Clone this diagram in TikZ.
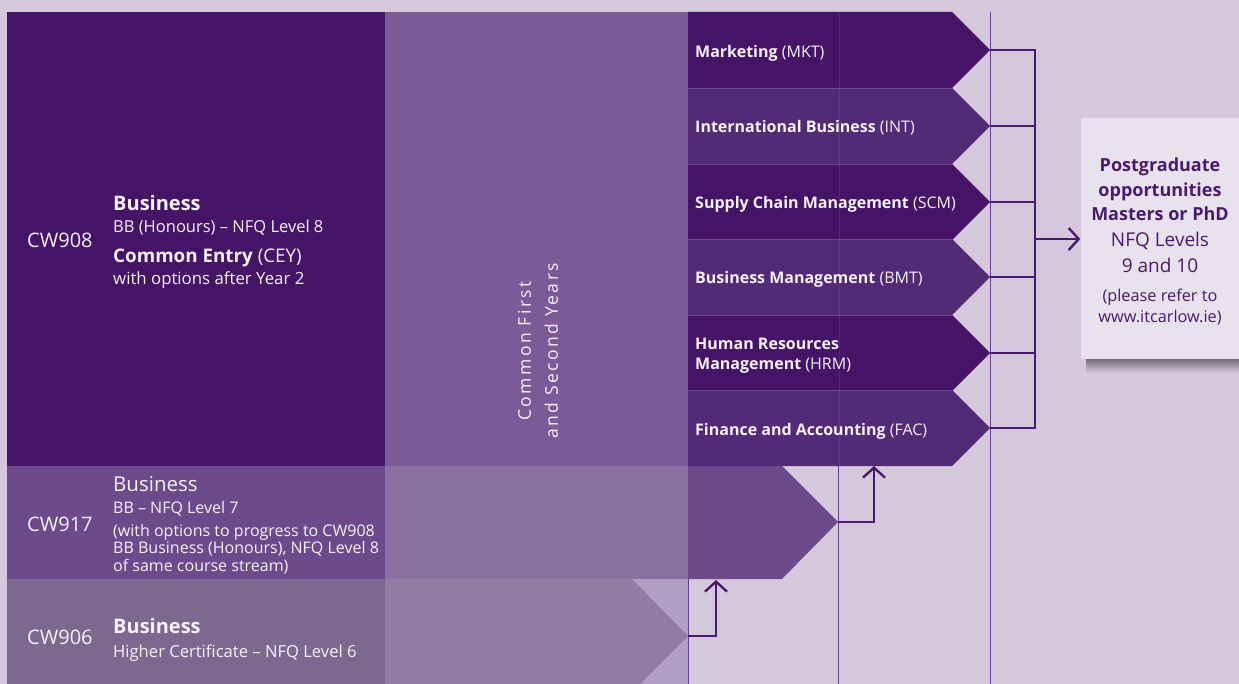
\documentclass[tikz,border=0pt]{standalone}
\usepackage{fontspec}
\setmainfont{Open Sans}
\usetikzlibrary{arrows.meta}
\definecolor{bg}{HTML}{D5C8DD}
\definecolor{dark}{HTML}{461467}
\definecolor{darkB}{HTML}{532A75}
\definecolor{midcol}{HTML}{7B5A98}
\definecolor{rowB}{HTML}{6C4A8B}
\definecolor{rowBmid}{HTML}{8A71A0}
\definecolor{rowC}{HTML}{7D6890}
\definecolor{rowCmid}{HTML}{917BA2}
\definecolor{rowClight}{HTML}{B1A0C4}
\definecolor{conn}{HTML}{4A1A6E}
\definecolor{thin}{HTML}{6B3F8F}
\definecolor{sep}{HTML}{6A4A8A}
\definecolor{boxfill}{HTML}{E8E2EE}
\definecolor{wtext}{HTML}{F6F2F8}
\begin{document}
\begin{tikzpicture}[x=1pt,y=-1pt,
  txt/.style={inner sep=0pt, anchor=base west, text=wtext},
  code/.style={txt, font=\fontsize{20}{23}\selectfont},
  ttl/.style={txt, font=\fontsize{20}{23}\selectfont\bfseries},
  sub/.style={txt, font=\fontsize{16}{19}\selectfont},
  opt/.style={txt, font=\fontsize{16}{19}\selectfont},
  pg/.style={inner sep=0pt, anchor=base, text=conn},
  pgb/.style={pg, font=\fontsize{18}{22}\selectfont\bfseries},
  pgr/.style={pg, font=\fontsize{19}{22}\selectfont},
  pgs/.style={pg, font=\fontsize{16.3}{19}\selectfont},
  connector/.style={draw=conn, line width=2.4pt},
  arr/.style={connector, -{Straight Barb[length=10pt,width=22pt,line width=2.4pt]}},
  thinline/.style={draw=thin, line width=1pt},
]
\useasboundingbox (0,0) rectangle (1239,684);
\fill[bg] (0,0) rectangle (1239,684);

% left blocks
\fill[dark] (7,12) rectangle (385,466);
\fill[midcol] (385,12) rectangle (688,466);
\fill[rowB] (7,466) rectangle (385,579);
\fill[rowBmid] (385,466) rectangle (688,579);
\fill[rowB] (688,466) -- (782,466) -- (838,522) -- (782,579) -- (688,579) -- cycle;
\fill[rowC] (7,579) rectangle (385,684);
\fill[rowClight] (385,579) rectangle (688,684);
\fill[rowCmid] (385,579) -- (632,579) -- (688,636) -- (640,684) -- (385,684) -- cycle;

% option arrows
\foreach \t/\c in {12/dark,88/darkB,164/dark,239/darkB,315/dark,390/darkB}{
  \pgfmathsetmacro\b{\t+76}
  \pgfmathsetmacro\m{\t+38}
  \fill[\c] (688,\t) -- (952,\t) -- (990,\m) -- (952,\b) -- (688,\b) -- cycle;
}
\foreach \y in {88,164,239,315,390}{
  \draw[sep, line width=0.8pt] (688,\y) -- (952,\y);
}
\draw[white, opacity=0.08, line width=1pt] (839,12) -- (839,466);

% thin vertical lines
\draw[thinline] (990,12) -- (990,684);
\draw[thinline] (838,466) -- (838,684);
\draw[thinline] (688,579) -- (688,684);

% tips
\coordinate (tMKT) at (990,50);
\coordinate (tINT) at (990,126);
\coordinate (tSCM) at (990,202);
\coordinate (tBMT) at (990,277);
\coordinate (tHRM) at (990,353);
\coordinate (tFAC) at (990,428);
\coordinate (bar) at (1035,239);
\coordinate (tCW917) at (838,522);
\coordinate (tCW906) at (688,636);
\coordinate (inFAC) at (874,466);
\coordinate (inCW917) at (716,580);

% connectors to postgraduate
\foreach \n in {tMKT,tINT,tSCM,tBMT,tHRM,tFAC}{
  \draw[connector] (\n) -- (\n -| bar);
}
\draw[connector, line cap=rect] (tMKT -| bar) -- (tFAC -| bar);

% right box with shadow
\shade[top color=black!45!bg, bottom color=bg] (1086,359) rectangle (1239,373);
\fill[boxfill] (1081,118) rectangle (1239,359);
\node[inner sep=0pt, minimum width=1pt, minimum height=1pt] (pgbox) at (1081,239) {};
\draw[arr] (bar) -- (pgbox);

% up arrows
\draw[arr] (tCW917) -- (inFAC |- tCW917) -- (inFAC);
\draw[arr] (tCW906) -- (inCW917 |- tCW906) -- (inCW917);

% texts CW908
\node[code] (c908) at (27,248) {CW908};
\node[ttl] (b908) at (113,211) {Business};
\node[sub, font=\fontsize{16.5}{19}\selectfont] (l908) at (113,233) {BB (Honours) – NFQ Level 8};
\node[txt, font=\fontsize{18.8}{22}\selectfont] (ce908) at (113,263) {\textbf{Common Entry} (CEY)};
\node[sub, font=\fontsize{16.8}{19}\selectfont] (w908) at (113,285) {with options after Year 2};

% CW917
\node[code] (c917) at (27,531) {CW917};
\node[txt, font=\fontsize{20.5}{23}\selectfont] (b917) at (113,491) {Business};
\node[sub] (l917) at (113,513) {BB – NFQ Level 7};
\node[sub] (a917) at (113,536) {(with options to progress to CW908};
\node[sub] (b2917) at (113,553) {BB Business (Honours), NFQ Level 8};
\node[sub] (c2917) at (113,571) {of same course stream)};

% CW906
\node[code] (c906) at (27,644) {CW906};
\node[ttl] (b906) at (113,633) {Business};
\node[sub, font=\fontsize{16.6}{19}\selectfont] (l906) at (113,657) {Higher Certificate – NFQ Level 6};

% rotated
\node[inner sep=0pt, rotate=90, align=center, text=wtext,
      font=\fontsize{17.5}{27}\selectfont\addfontfeatures{LetterSpace=14}] (common) at (538,351)
      {Common First\\and Second Years};

% option labels
\node[opt] (oMKT) at (695,58) {\textbf{Marketing} (MKT)};
\node[opt] (oINT) at (695,133) {\textbf{International Business} (INT)};
\node[opt] (oSCM) at (695,209) {\textbf{Supply Chain Management} (SCM)};
\node[opt] (oBMT) at (695,284) {\textbf{Business Management} (BMT)};
\node[opt] (oHRM1) at (695,349) {\textbf{Human Resources}};
\node[opt] (oHRM2) at (695,370) {\textbf{Management} (HRM)};
\node[opt] (oFAC) at (695,435) {\textbf{Finance and Accounting} (FAC)};

% postgraduate text
\node[pgb] (p1) at (1160,172) {Postgraduate};
\node[pgb] (p2) at (1160,197) {opportunities};
\node[pgb] (p3) at (1160,221) {Masters or PhD};
\node[pgr] (p4) at (1160,247) {NFQ Levels};
\node[pgr] (p5) at (1160,273) {9 and 10};
\node[pgs] (p6) at (1160,302) {(please refer to};
\node[pgs] (p7) at (1160,323) {www.itcarlow.ie)};
\end{tikzpicture}
\end{document}
